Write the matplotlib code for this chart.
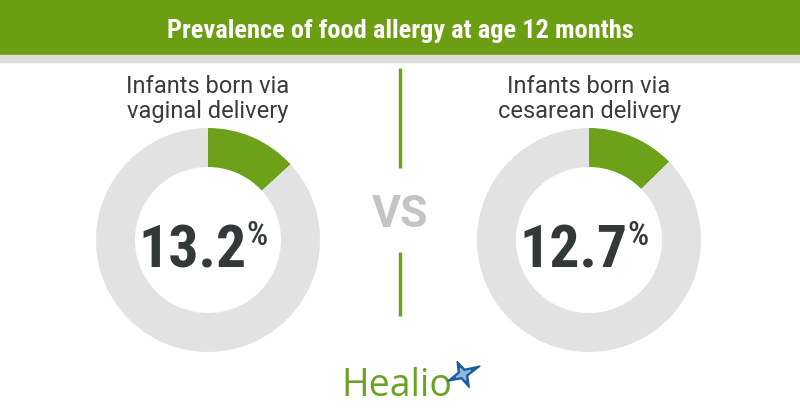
import numpy as np
import matplotlib.pyplot as plt
from matplotlib.patches import Rectangle

plt.close("all")

#%%
# data
title = "Prevalence of food allergy at age 12 months"
groups = ["Infants born via\nvaginal delivery", "Infants born via\ncesarean delivery"]
prevalence = [13.2, 12.7]
value_labels = ["13.2", "12.7"]

#%%
# colours and layout (pixel units, y measured from top)
W, H = 800, 420
green = "#6c9e13"
wedge_green = "#6ea11a"
ring_gray = "#e2e2e2"
text_dark = "#3a3c3c"
num_dark = "#333939"
cond = ["Roboto Condensed", "Roboto"]

centers_x = [208, 589]
center_y = 240
r_out = 112
ring_w = 39

fig = plt.figure(figsize=(8, 4.2), dpi=100)
ax = fig.add_axes([0, 0, 1, 1])


def Y(y):
    return H - y


#%%
# header band
ax.add_patch(Rectangle((0, Y(55)), W, 55, color=green, zorder=1))
ax.add_patch(Rectangle((0, Y(62)), W, 7, color="#dcdcdc", zorder=1))
ax.text(400, Y(38), title, color="white", fontsize=19, fontweight="bold",
        family=cond, ha="center", va="baseline")

#%%
# donuts
for i in range(len(groups)):
    cx = centers_x[i]
    p = prevalence[i]
    ax.pie([p, 100 - p],
           colors=[wedge_green, ring_gray],
           center=(cx, Y(center_y)),
           radius=r_out,
           startangle=90,
           counterclock=False,
           wedgeprops=dict(width=ring_w, linewidth=0))

    ax.text(cx, Y(118), groups[i], color=text_dark, fontsize=17, family="Roboto",
            ha="center", va="baseline", linespacing=1.1, multialignment="center")

    ax.text(cx + 39, Y(267), value_labels[i], color=num_dark, fontsize=43,
            fontweight="bold", family=cond, ha="right", va="baseline")
    ax.text(cx + 38, Y(245), "%", color=num_dark, fontsize=24,
            fontweight="medium", family=cond, ha="left", va="baseline")

#%%
# divider and VS
ax.plot([400, 400], [Y(68), Y(168)], color="#6fa31c", linewidth=2.5, solid_capstyle="butt")
ax.plot([400, 400], [Y(252), Y(316)], color="#6fa31c", linewidth=2.5, solid_capstyle="butt")
ax.text(400, Y(227), "VS", color="#c4c4c4", fontsize=32, fontweight="bold",
        family="Roboto", ha="center", va="baseline")

#%%
# Healio logo
ax.text(341, Y(396), "Healio", color="#6aa324", fontsize=27, family="Open Sans",
        ha="left", va="baseline")
ang = np.deg2rad(np.arange(8) * 45 + 25)
rad = np.array([19, 5, 14, 5, 17, 5, 15, 5])
ax.fill(463 + rad*np.cos(ang), Y(374) + rad*np.sin(ang), color="#1d5f9e", zorder=3)
rad2 = rad*0.45
ax.fill(463 + rad2*np.cos(ang), Y(374) + rad2*np.sin(ang), color="#8dbbe0", zorder=4)

ax.set_xlim(0, W)
ax.set_ylim(0, H)
ax.set_aspect("auto")
ax.axis("off")

fig.savefig("out.png", dpi=100)
